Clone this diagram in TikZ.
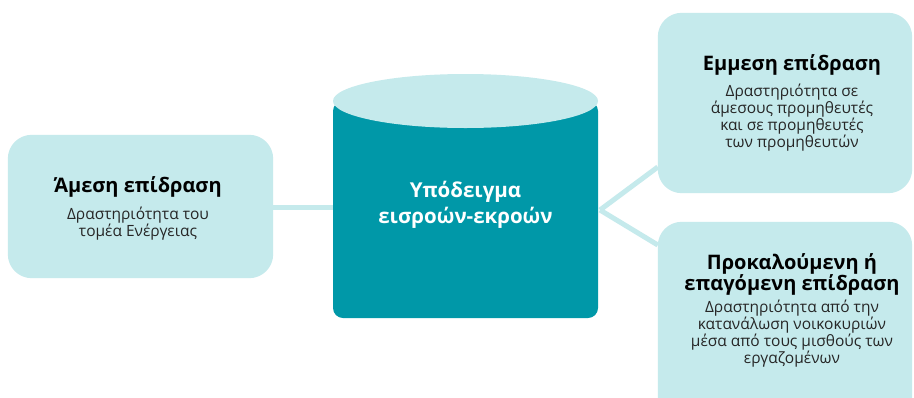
\documentclass[tikz,border=0pt]{standalone}
\usepackage{fontspec}
\setmainfont{Open Sans}
\definecolor{lightteal}{HTML}{C5EAEC}
\definecolor{darkteal}{HTML}{0098A8}
\tikzset{
  box/.style={fill=lightteal, draw=none, rounded corners=24pt},
  frame/.style={inner sep=0pt, draw=none},
  conn/.style={draw=lightteal, line width=5pt},
  ttl/.style={font=\bfseries\fontsize{20}{21}\selectfont, text=black, align=center, inner sep=0pt, anchor=base},
  sub/.style={font=\fontsize{15.5}{17}\selectfont, text=black!85, align=center, inner sep=0pt, anchor=north},
  cyltxt/.style={font=\bfseries\fontsize{20.5}{26}\selectfont, text=white, align=center, inner sep=0pt, anchor=base}
}
\begin{document}
\begin{tikzpicture}[x=1pt,y=-1pt]
\clip (0,0) rectangle (914,397);
\fill[white] (0,0) rectangle (914,397);
% frames
\node[frame, minimum width=265pt, minimum height=143pt] (left) at (140.5,206.5) {};
\node[frame, minimum width=254pt, minimum height=180pt] (tr) at (785,103) {};
\node[frame, minimum width=254pt, minimum height=208pt] (br) at (785,326) {};
\node[frame, minimum width=265pt, minimum height=244pt] (cyl) at (465.5,196) {};
\coordinate (j) at (600,210);
% connectors
\draw[conn] (left.east |- 0,207) -- (cyl.west |- 0,207);
\draw[conn] (j) -- (tr.west |- 0,167);
\draw[conn] (j) -- (br.west |- 0,245);
% boxes
\path[box] (left.north west) rectangle (left.south east);
\path[box] (tr.north west) rectangle (tr.south east);
\path[box] (br.north west) rectangle (br.south east);
% cylinder
\fill[darkteal, rounded corners=10pt] (333,101) -- (333,318) -- (598,318) -- (598,101) -- cycle;
\fill[lightteal] (465.5,101) ellipse [x radius=132.5pt, y radius=27pt];
% texts
\node[ttl] (lt) at (138,192) {Άμεση επίδραση};
\node[sub] (ls) at (138,207) {Δραστηριότητα του\\τομέα Ενέργειας};
\node[cyltxt] (ct) at (465.5,223) {Υπόδειγμα\\εισροών-εκροών};
\node[ttl] (trt) at (792,70) {Εμμεση επίδραση};
\node[sub] (trs) at (792,84) {Δραστηριότητα σε\\άμεσους προμηθευτές\\και σε προμηθευτές\\των προμηθευτών};
\node[ttl] (brt) at (792,290) {Προκαλούμενη ή\\επαγόμενη επίδραση};
\node[sub] (brs) at (792,300) {Δραστηριότητα από την\\κατανάλωση νοικοκυριών\\μέσα από τους μισθούς των\\εργαζομένων};
\end{tikzpicture}
\end{document}
